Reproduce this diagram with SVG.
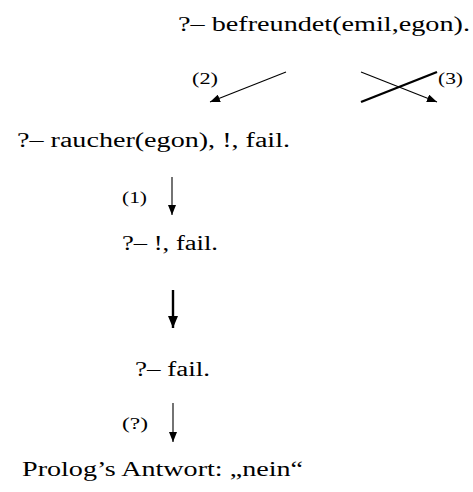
<svg xmlns="http://www.w3.org/2000/svg" width="473" height="492" viewBox="0 0 473 492">
<style>
.t{font-family:'Liberation Serif','DejaVu Serif',serif;font-size:20px;fill:#000}
.l{font-family:'Liberation Serif','DejaVu Serif',serif;font-size:17px;fill:#000}
.c{stroke:#000;fill:none;stroke-width:1.1}
.k{stroke:#000;fill:none;stroke-width:2.4}
</style>
<defs>
<marker id="ah" markerUnits="userSpaceOnUse" markerWidth="11" markerHeight="8" refX="10" refY="4" orient="auto">
<path d="M0,0 L10,4 L0,8 z" fill="#000"/>
</marker>
<marker id="ahk" markerUnits="userSpaceOnUse" markerWidth="13" markerHeight="10" refX="12" refY="5" orient="auto">
<path d="M0,0 L12,5 L0,10 z" fill="#000"/>
</marker>
</defs>
<rect width="473" height="492" fill="#fff"/>
<g id="connectors">
<line class="c" x1="286" y1="72" x2="210" y2="102" marker-end="url(#ah)"/>
<line class="c" x1="361" y1="72" x2="437" y2="102" marker-end="url(#ah)"/>
<line class="k" x1="437" y1="72" x2="361" y2="102"/>
<line class="c" x1="172" y1="177" x2="172" y2="215" marker-end="url(#ah)"/>
<line class="k" x1="173" y1="290" x2="173" y2="328" marker-end="url(#ahk)"/>
<line class="c" x1="173" y1="403" x2="173" y2="442" marker-end="url(#ah)"/>
<text class="l" x="192" y="84" textLength="26" lengthAdjust="spacingAndGlyphs">(2)</text>
<text class="l" x="438" y="84" textLength="25" lengthAdjust="spacingAndGlyphs">(3)</text>
<text class="l" x="122" y="203" textLength="25" lengthAdjust="spacingAndGlyphs">(1)</text>
<text class="l" x="122" y="429" textLength="26" lengthAdjust="spacingAndGlyphs">(?)</text>
</g>
<g id="n0"><text class="t" x="178" y="31" textLength="292" lengthAdjust="spacingAndGlyphs">?– befreundet(emil,egon).</text></g>
<g id="n1"><text class="t" x="17" y="147" textLength="273" lengthAdjust="spacingAndGlyphs">?– raucher(egon), !, fail.</text></g>
<g id="n2"><text class="t" x="122" y="250" textLength="96" lengthAdjust="spacingAndGlyphs">?– !, fail.</text></g>
<g id="n3"><text class="t" x="135" y="376" textLength="75" lengthAdjust="spacingAndGlyphs">?– fail.</text></g>
<g id="n4"><text class="t" x="22" y="476" textLength="281" lengthAdjust="spacingAndGlyphs">Prolog’s Antwort: „nein“</text></g>
</svg>
